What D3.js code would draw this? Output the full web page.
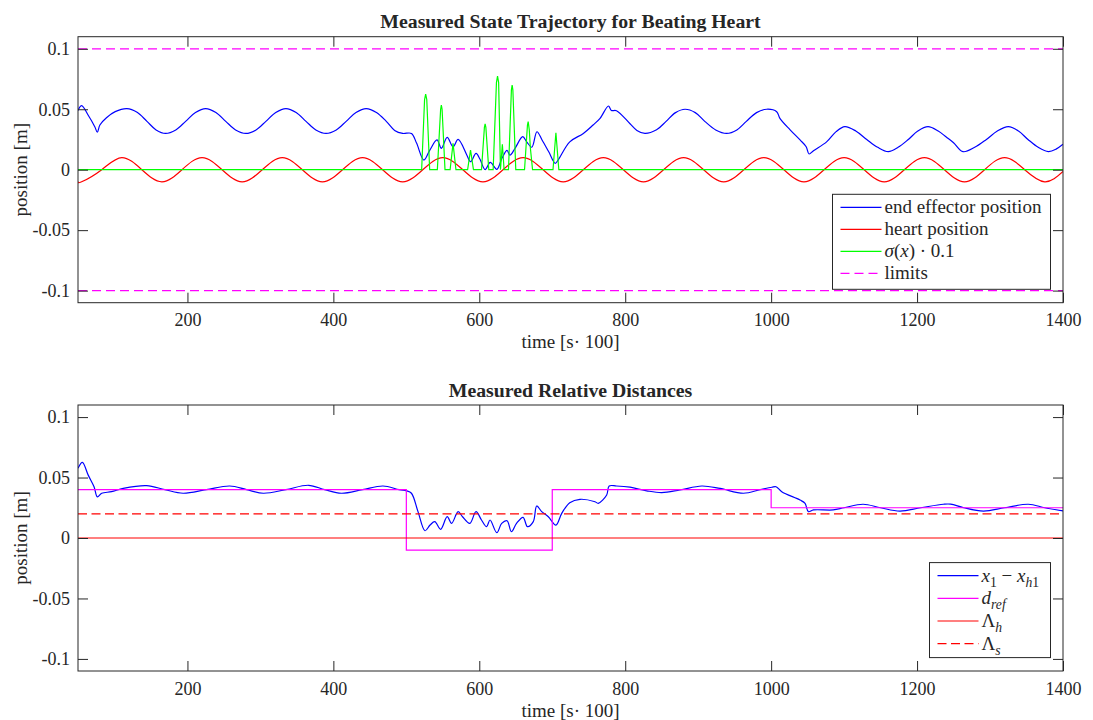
<!DOCTYPE html>
<html>
<head>
<meta charset="utf-8">
<script src="https://cdn.jsdelivr.net/npm/d3@7"></script>
<style>
  body { margin: 0; background: #fff; }
  text { font-family: "Liberation Serif", "Times New Roman", serif; fill: #262626; }
</style>
</head>
<body>
<svg id="chart" width="1093" height="720"></svg>
<script>
const svg = d3.select("#chart");

// axis settings
const xDomain = [50, 1400];
const yDomain = [-0.11, 0.11];
const xTicks = [200, 400, 600, 800, 1000, 1200, 1400];
const yTicks = [-0.1, -0.05, 0, 0.05, 0.1];

// top plot: end effector position [time, m]
const effectorPos = [
  [50, 0.049], [55, 0.053], [64, 0.045], [73, 0.0356], [76.5, 0.031], [80, 0.037], [89, 0.043],
  [101, 0.048], [117, 0.0505], [131, 0.0475], [144.5, 0.040], [157, 0.0329], [170, 0.030],
  [184, 0.0329], [197.5, 0.040], [211, 0.0473], [225, 0.0505], [239, 0.0473], [252.5, 0.040],
  [266, 0.0329], [280, 0.030], [294, 0.0329], [307.5, 0.040], [321, 0.0473], [335, 0.0505],
  [349, 0.0473], [362.5, 0.040], [376, 0.0329], [390, 0.030], [404, 0.0329], [417.5, 0.040],
  [431, 0.0473], [445, 0.0505], [459, 0.0473], [472.5, 0.040], [484, 0.0325], [495, 0.030],
  [507, 0.030], [514, 0.022],
  [524, 0.008], [532, 0.016], [542, 0.0246], [548, 0.0177], [556, 0.0268], [564, 0.019],
  [571, 0.025], [583, 0.012], [588, 0.0066], [595.5, 0.0135], [601, 0.0086], [608, 0.0],
  [615, 0.006], [624, 0.0003], [631, 0.0094], [638, 0.016], [642, 0.012], [649, 0.0177],
  [659.5, 0.0273], [665, 0.023], [672, 0.0186], [679, 0.0314], [686, 0.0246], [695, 0.015],
  [704, 0.0053], [708, 0.008], [724, 0.023], [742.6, 0.030], [756, 0.037], [765.5, 0.0425],
  [777, 0.0527], [781, 0.049], [788, 0.0488], [806.6, 0.038], [816, 0.0325], [827, 0.030],
  [843, 0.033], [856, 0.040], [869, 0.0472], [882, 0.050], [896, 0.0472], [909, 0.040],
  [924, 0.0329], [939, 0.030], [953, 0.0329], [966, 0.040], [980, 0.0472], [994, 0.050],
  [1007.6, 0.048], [1012, 0.0425], [1026, 0.033], [1039.6, 0.0246], [1048, 0.019],
  [1052, 0.013], [1058, 0.0157], [1076, 0.023], [1089, 0.0315], [1101, 0.0356], [1116, 0.032],
  [1131, 0.025], [1146, 0.0185], [1160.6, 0.0149], [1174, 0.0185], [1188, 0.025], [1201, 0.032],
  [1215, 0.0356], [1229, 0.032], [1240, 0.027], [1250, 0.0223], [1263, 0.0149], [1279, 0.0185],
  [1295, 0.025], [1310, 0.032], [1325, 0.0356], [1339, 0.032], [1352, 0.025], [1366, 0.0185],
  [1380, 0.015], [1391, 0.0172], [1400, 0.021]
];

// top plot: heart position
const heartPos = [
  [50, -0.0096], [55, -0.01], [82.5, 0], [110, 0.01], [137.5, 0], [165, -0.01], [192.5, 0],
  [220, 0.01], [247.5, 0], [275, -0.01], [302.5, 0], [330, 0.01], [357.5, 0], [385, -0.01],
  [412.5, 0], [440, 0.01], [467.5, 0], [495, -0.01], [522.5, 0], [550, 0.01], [577.5, 0],
  [605, -0.01], [632.5, 0], [660, 0.01], [687.5, 0], [715, -0.01], [742.5, 0], [770, 0.01],
  [797.5, 0], [825, -0.01], [852.5, 0], [880, 0.01], [907.5, 0], [935, -0.01], [962.5, 0],
  [990, 0.01], [1017.5, 0], [1045, -0.01], [1072.5, 0], [1100, 0.01], [1127.5, 0], [1155, -0.01],
  [1182.5, 0], [1210, 0.01], [1237.5, 0], [1265, -0.01], [1292.5, 0], [1320, 0.01], [1347.5, 0],
  [1375, -0.01], [1400, -0.0015]
];

// top plot: sigma(x) * 0.1
const sigmaScaled = [
  [50, 0], [521, 0], [525, 0.058], [526.5, 0.0626], [528, 0.058], [532, 0], [542.5, 0],
  [547, 0.050], [548, 0.0535], [549, 0.050], [553, 0], [560, 0], [564, 0.0218], [568, 0],
  [584, 0], [588, 0.0163], [592, 0], [603, 0], [607, 0.035], [608, 0.0378], [609, 0.035],
  [613, 0], [619, 0], [623.5, 0.072], [625, 0.0775], [626.5, 0.072], [629, 0], [631.6, 0.021],
  [634, 0], [640, 0], [644, 0.066], [645, 0.070], [646, 0.066], [650, 0], [662, 0],
  [666, 0.037], [667, 0.0397], [668.5, 0.033], [670, 0.018], [673, 0], [701, 0], [705, 0.0306],
  [709, 0], [1400, 0]
];

const upperLimit = [[50, 0.1], [1400, 0.1]];
const lowerLimit = [[50, -0.1], [1400, -0.1]];

// bottom plot: x1 - xh1
const relDistance = [
  [50, 0.0576], [56, 0.0626], [64, 0.052], [72, 0.0424], [76.5, 0.034], [82.5, 0.037], [96, 0.0383],
  [112, 0.041], [144, 0.0433], [169, 0.040], [194, 0.037], [226, 0.040], [258, 0.043], [281, 0.040],
  [304, 0.037], [335, 0.040], [366, 0.0436], [388, 0.040], [411, 0.037], [440, 0.040], [468, 0.043],
  [490, 0.040], [500.5, 0.039], [507, 0.037], [516, 0.0218], [525.6, 0.006], [532.5, 0.0107],
  [539, 0.0135], [547, 0.0072], [556, 0.0176], [562, 0.0121], [571, 0.0218], [577, 0.0176],
  [587, 0.0121], [595.5, 0.0218], [603, 0.0149], [610, 0.0094], [614.7, 0.0149], [624, 0.0044],
  [630.7, 0.0121], [638, 0.0143], [644, 0.0052], [651, 0.0121], [660, 0.0171], [666, 0.0094],
  [674, 0.0135], [678.7, 0.0265], [685.5, 0.0218], [694.6, 0.0176], [705, 0.0107], [713, 0.0204],
  [724, 0.0292], [738, 0.032], [758.6, 0.030], [763, 0.0287], [774.6, 0.0356], [778, 0.043],
  [788, 0.043], [806.6, 0.042], [829.5, 0.039], [850, 0.0375], [875, 0.0397], [905, 0.043],
  [930, 0.041], [962, 0.037], [985, 0.040], [1001, 0.042], [1006.7, 0.0424], [1014.5, 0.0383],
  [1039.6, 0.0314], [1046.5, 0.0287], [1051, 0.0218], [1058, 0.0232], [1085, 0.0232], [1100, 0.025],
  [1126, 0.0279], [1150, 0.025], [1176.6, 0.0223], [1205, 0.025], [1236, 0.0279], [1246, 0.028],
  [1264, 0.025], [1291, 0.0223], [1320, 0.025], [1352.5, 0.0279], [1375, 0.025], [1398, 0.0226],
  [1400, 0.0225]
];

// bottom plot: reference distance (steps), safety and hard limits
const dRef = [[50, 0.04], [500, -0.01], [700, 0.04], [1000, 0.025], [1400, 0.025]];
const lambdaH = [[50, 0], [1400, 0]];
const lambdaS = [[50, 0.02], [1400, 0.02]];

const x = d3.scaleLinear().domain(xDomain).range([78, 1063]);
const axisColor = "#262626";

const panels = [
  {
    id: "top", top: 36.7, bottom: 302.7,
    title: "Measured State Trajectory for Beating Heart",
    series: [
      { data: effectorPos, color: "#0000ff", curve: d3.curveCatmullRom.alpha(0.5) },
      { data: heartPos, color: "#ff0000", curve: d3.curveNatural },
      { data: sigmaScaled, color: "#00ff00", curve: d3.curveLinear },
      { data: upperLimit, color: "#ff00ff", curve: d3.curveLinear, dash: "9,5" },
      { data: lowerLimit, color: "#ff00ff", curve: d3.curveLinear, dash: "9,5" }
    ],
    legend: {
      width: 218, rowH: 22,
      items: [
        { color: "#0000ff", parts: [["end effector position"]] },
        { color: "#ff0000", parts: [["heart position"]] },
        { color: "#00ff00", parts: [["σ", "i"], ["("], ["x", "i"], [") · 0.1"]] },
        { color: "#ff00ff", dash: "9,5", parts: [["limits"]] }
      ]
    }
  },
  {
    id: "bottom", top: 405, bottom: 671,
    title: "Measured Relative Distances",
    series: [
      { data: relDistance, color: "#0000ff", curve: d3.curveCatmullRom.alpha(0.5) },
      { data: dRef, color: "#ff00ff", curve: d3.curveStepAfter },
      { data: lambdaH, color: "#ff0000", curve: d3.curveLinear },
      { data: lambdaS, color: "#ff0000", curve: d3.curveLinear, dash: "9,4.5" }
    ],
    legend: {
      width: 121, rowH: 22.7,
      items: [
        { color: "#0000ff", parts: [["x", "i"], ["1", "s"], [" − "], ["x", "i"], ["h", "is"], ["1", "s"]] },
        { color: "#ff00ff", parts: [["d", "i"], ["ref", "is"]] },
        { color: "#ff0000", parts: [["Λ"], ["h", "is"]] },
        { color: "#ff0000", dash: "9,4.5", parts: [["Λ"], ["s", "is"]] }
      ]
    }
  }
];

function richText(sel, parts) {
  let shifted = false;
  parts.forEach(([str, style = ""]) => {
    const sub = style.includes("s");
    const t = sel.append("tspan").text(str);
    if (style.includes("i")) t.attr("font-style", "italic");
    if (sub) t.attr("font-size", "0.72em");
    if (sub && !shifted) { t.attr("dy", 5); shifted = true; }
    else if (!sub && shifted) { t.attr("dy", -5); shifted = false; }
  });
}

panels.forEach(p => {
  const y = d3.scaleLinear().domain(yDomain).range([p.bottom, p.top]);
  const g = svg.append("g");
  const [x0, x1] = x.range();

  g.append("clipPath").attr("id", "clip-" + p.id)
    .append("rect").attr("x", x0).attr("y", p.top).attr("width", x1 - x0).attr("height", p.bottom - p.top);

  const line = d3.line().x(d => x(d[0])).y(d => y(d[1]));

  p.series.forEach(s => {
    g.append("path")
      .datum(s.data)
      .attr("clip-path", `url(#clip-${p.id})`)
      .attr("fill", "none")
      .attr("stroke", s.color)
      .attr("stroke-width", 1.2)
      .attr("stroke-dasharray", s.dash || null)
      .attr("d", line.curve(s.curve));
  });

  const yFmt = d => d === 0 ? "0" : String(d);

  const axes = [
    { axis: d3.axisBottom(x).tickValues(xTicks).tickFormat(d => String(d)).tickPadding(11), tr: `translate(0,${p.bottom})` },
    { axis: d3.axisTop(x).tickValues(xTicks).tickFormat(""), tr: `translate(0,${p.top})` },
    { axis: d3.axisLeft(y).tickValues(yTicks).tickFormat(yFmt).tickPadding(8), tr: `translate(${x0},0)` },
    { axis: d3.axisRight(y).tickValues(yTicks).tickFormat(""), tr: `translate(${x1},0)` }
  ];
  axes.forEach(a => {
    const ag = g.append("g").attr("transform", a.tr)
      .call(a.axis.tickSizeInner(-10).tickSizeOuter(0));
    ag.select(".domain").remove();
    ag.selectAll("line").attr("stroke", axisColor).attr("stroke-width", 1);
    ag.selectAll("text")
      .attr("fill", axisColor)
      .style("font-family", '"Liberation Serif", serif')
      .style("font-size", "18px");
  });

  g.append("rect")
    .attr("x", x0).attr("y", p.top)
    .attr("width", x1 - x0).attr("height", p.bottom - p.top)
    .attr("fill", "none").attr("stroke", axisColor).attr("stroke-width", 1);

  g.append("text")
    .attr("x", (x0 + x1) / 2).attr("y", p.top - 8.5)
    .attr("text-anchor", "middle")
    .attr("font-weight", "bold").attr("font-size", "19.8px")
    .text(p.title);

  g.append("text")
    .attr("x", (x0 + x1) / 2).attr("y", p.bottom + 45.5)
    .attr("text-anchor", "middle").attr("font-size", "19px")
    .text("time [s· 100]");

  g.append("text")
    .attr("transform", `translate(27,${(p.top + p.bottom) / 2}) rotate(-90)`)
    .attr("text-anchor", "middle").attr("font-size", "19px")
    .text("position [m]");

  // legend box in the lower right corner
  const lg = p.legend;
  const lh = 95;
  const lx = x1 - 12.5 - lg.width;
  const ly = p.bottom - 13.4 - lh;
  const leg = g.append("g").attr("transform", `translate(${lx},${ly})`);
  leg.append("rect").attr("width", lg.width).attr("height", lh)
    .attr("fill", "#fff").attr("stroke", axisColor).attr("stroke-width", 1);
  lg.items.forEach((it, i) => {
    const cy = 13 + i * lg.rowH;
    leg.append("line")
      .attr("x1", 8).attr("x2", 49).attr("y1", cy).attr("y2", cy)
      .attr("stroke", it.color).attr("stroke-width", 1.2)
      .attr("stroke-dasharray", it.dash || null);
    const t = leg.append("text")
      .attr("x", 52).attr("y", cy + 6)
      .attr("font-size", "19px");
    richText(t, it.parts);
  });
});
</script>
</body>
</html>
